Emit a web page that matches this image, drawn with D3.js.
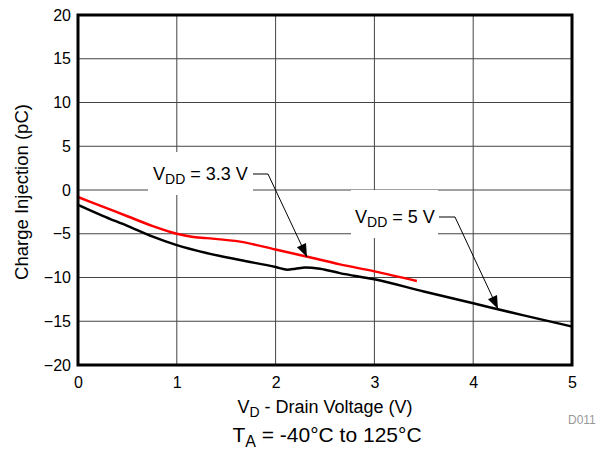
<!DOCTYPE html>
<html>
<head>
<meta charset="utf-8">
<script src="https://cdn.jsdelivr.net/npm/d3@7"></script>
<style>
  body { margin: 0; background: #fff; }
  text { font-family: "Liberation Sans", Arial, Helvetica, sans-serif; }
</style>
</head>
<body>
<div id="content"></div>
<script>
// dimensiones
var width = 601;
var height = 460;
var margin = {top: 15, right: 29, bottom: 95, left: 78};

// datos
var xTicks = [0, 1, 2, 3, 4, 5];
var yTicks = [-20, -15, -10, -5, 0, 5, 10, 15, 20];

var vd5 = [0, 0.25, 0.5, 0.75, 1, 1.3, 1.64, 2, 2.12, 2.2, 2.3, 2.45, 2.65, 3, 3.5, 4, 4.5, 5];
var qi5 = [-1.7, -2.95, -4.1, -5.3, -6.3, -7.2, -8.0, -8.8, -9.1, -9.0, -8.85, -9.0, -9.5, -10.2, -11.6, -12.95, -14.3, -15.6];

var vd33 = [0, 0.25, 0.5, 0.75, 1, 1.15, 1.3, 1.64, 2, 2.31, 2.65, 3, 3.43];
var qi33 = [-0.8, -1.9, -3.0, -4.1, -5.0, -5.35, -5.5, -5.9, -6.8, -7.6, -8.5, -9.3, -10.4];

var svg = d3.select("#content")
  .append("svg")
  .attr("width", width)
  .attr("height", height);

var w = width - margin.left - margin.right;
var h = height - margin.top - margin.bottom;

var x = d3.scaleLinear().domain([0, 5]).range([margin.left, margin.left + w]);
var y = d3.scaleLinear().domain([-20, 20]).range([margin.top + h, margin.top]);

// rejilla
svg.append("g")
  .selectAll("line.v")
  .data(xTicks.slice(1, -1))
  .enter().append("line")
  .attr("x1", function(d) { return x(d); })
  .attr("x2", function(d) { return x(d); })
  .attr("y1", y(20))
  .attr("y2", y(-20))
  .attr("stroke", "#444")
  .attr("stroke-width", 1);

svg.append("g")
  .selectAll("line.h")
  .data(yTicks.slice(1, -1))
  .enter().append("line")
  .attr("x1", x(0))
  .attr("x2", x(5))
  .attr("y1", function(d) { return y(d); })
  .attr("y2", function(d) { return y(d); })
  .attr("stroke", "#444")
  .attr("stroke-width", 1);

// cajas blancas detrás de las etiquetas
svg.append("rect").attr("x", 148).attr("y", 152).attr("width", 105).attr("height", 43).attr("fill", "#fff");
svg.append("rect").attr("x", 351).attr("y", 190).attr("width", 87).attr("height", 48).attr("fill", "#fff");

// curvas
var line = d3.line()
  .x(function(d) { return x(d[0]); })
  .y(function(d) { return y(d[1]); })
  .curve(d3.curveMonotoneX);

svg.append("path")
  .datum(d3.zip(vd5, qi5))
  .attr("d", line)
  .attr("fill", "none")
  .attr("stroke", "#000")
  .attr("stroke-width", 2.5);

svg.append("path")
  .datum(d3.zip(vd33, qi33))
  .attr("d", line)
  .attr("fill", "none")
  .attr("stroke", "#ff0000")
  .attr("stroke-width", 2.5);

// marco
svg.append("rect")
  .attr("x", x(0))
  .attr("y", y(20))
  .attr("width", w)
  .attr("height", h)
  .attr("fill", "none")
  .attr("stroke", "#000")
  .attr("stroke-width", 3);

// ejes
var xAxis = svg.append("g")
  .attr("transform", "translate(0," + (y(-20) + 6) + ")")
  .call(d3.axisBottom(x).tickValues(xTicks).tickSize(0).tickPadding(6).tickFormat(d3.format("d")));
var yAxis = svg.append("g")
  .attr("transform", "translate(" + (x(0) - 7) + ",0)")
  .call(d3.axisLeft(y).tickValues(yTicks).tickSize(0).tickPadding(0).tickFormat(d3.format("d")));
[xAxis, yAxis].forEach(function(a) {
  a.select(".domain").remove();
  a.selectAll("text")
    .attr("fill", "#000")
    .style("font-size", "16px")
    .style("font-family", '"Liberation Sans", Arial, sans-serif');
});

// titulos
var xt = svg.append("text")
  .attr("x", 325)
  .attr("y", 413)
  .attr("text-anchor", "middle")
  .style("font-size", "18px");
xt.append("tspan").text("V");
xt.append("tspan").attr("dy", 4).style("font-size", "14px").text("D");
xt.append("tspan").attr("dy", -4).text(" - Drain Voltage (V)");

svg.append("text")
  .attr("transform", "translate(28," + (y(0) + 2) + ") rotate(-90)")
  .attr("text-anchor", "middle")
  .style("font-size", "18.5px")
  .text("Charge Injection (pC)");

svg.append("text")
  .attr("x", 568)
  .attr("y", 424)
  .attr("fill", "#999")
  .style("font-size", "12px")
  .text("D011");

var ft = svg.append("text")
  .attr("x", 327)
  .attr("y", 442)
  .attr("text-anchor", "middle")
  .style("font-size", "21px");
ft.append("tspan").text("T");
ft.append("tspan").attr("dy", 5).style("font-size", "16px").text("A");
ft.append("tspan").attr("dy", -5).text(" = -40°C to 125°C");

// etiquetas con flecha
var labels = [
  {main: "V", sub: "DD", rest: " = 3.3 V", tx: 153, ty: 180, lx: 253, ly: 174, kx: 268, hx: 307, hy: 257},
  {main: "V", sub: "DD", rest: " = 5 V", tx: 355, ty: 223, lx: 439, ly: 217, kx: 455, hx: 498, hy: 309}
];

labels.forEach(function(l) {
  var t = svg.append("text").attr("x", l.tx).attr("y", l.ty).style("font-size", "18px");
  t.append("tspan").text(l.main);
  t.append("tspan").attr("dy", 4).style("font-size", "14px").text(l.sub);
  t.append("tspan").attr("dy", -4).text(l.rest);

  svg.append("polyline")
    .attr("points", [[l.lx, l.ly], [l.kx, l.ly], [l.hx, l.hy]].map(function(p) { return p.join(","); }).join(" "))
    .attr("fill", "none")
    .attr("stroke", "#000")
    .attr("stroke-width", 1);

  var ang = Math.atan2(l.hy - l.ly, l.hx - l.kx);
  var len = 13, half = 5;
  var bx = l.hx - len * Math.cos(ang), by = l.hy - len * Math.sin(ang);
  var px = -Math.sin(ang) * half, py = Math.cos(ang) * half;
  svg.append("polygon")
    .attr("points", [[l.hx, l.hy], [bx + px, by + py], [bx - px, by - py]].map(function(p) { return p.join(","); }).join(" "))
    .attr("fill", "#000");
});
</script>
</body>
</html>
